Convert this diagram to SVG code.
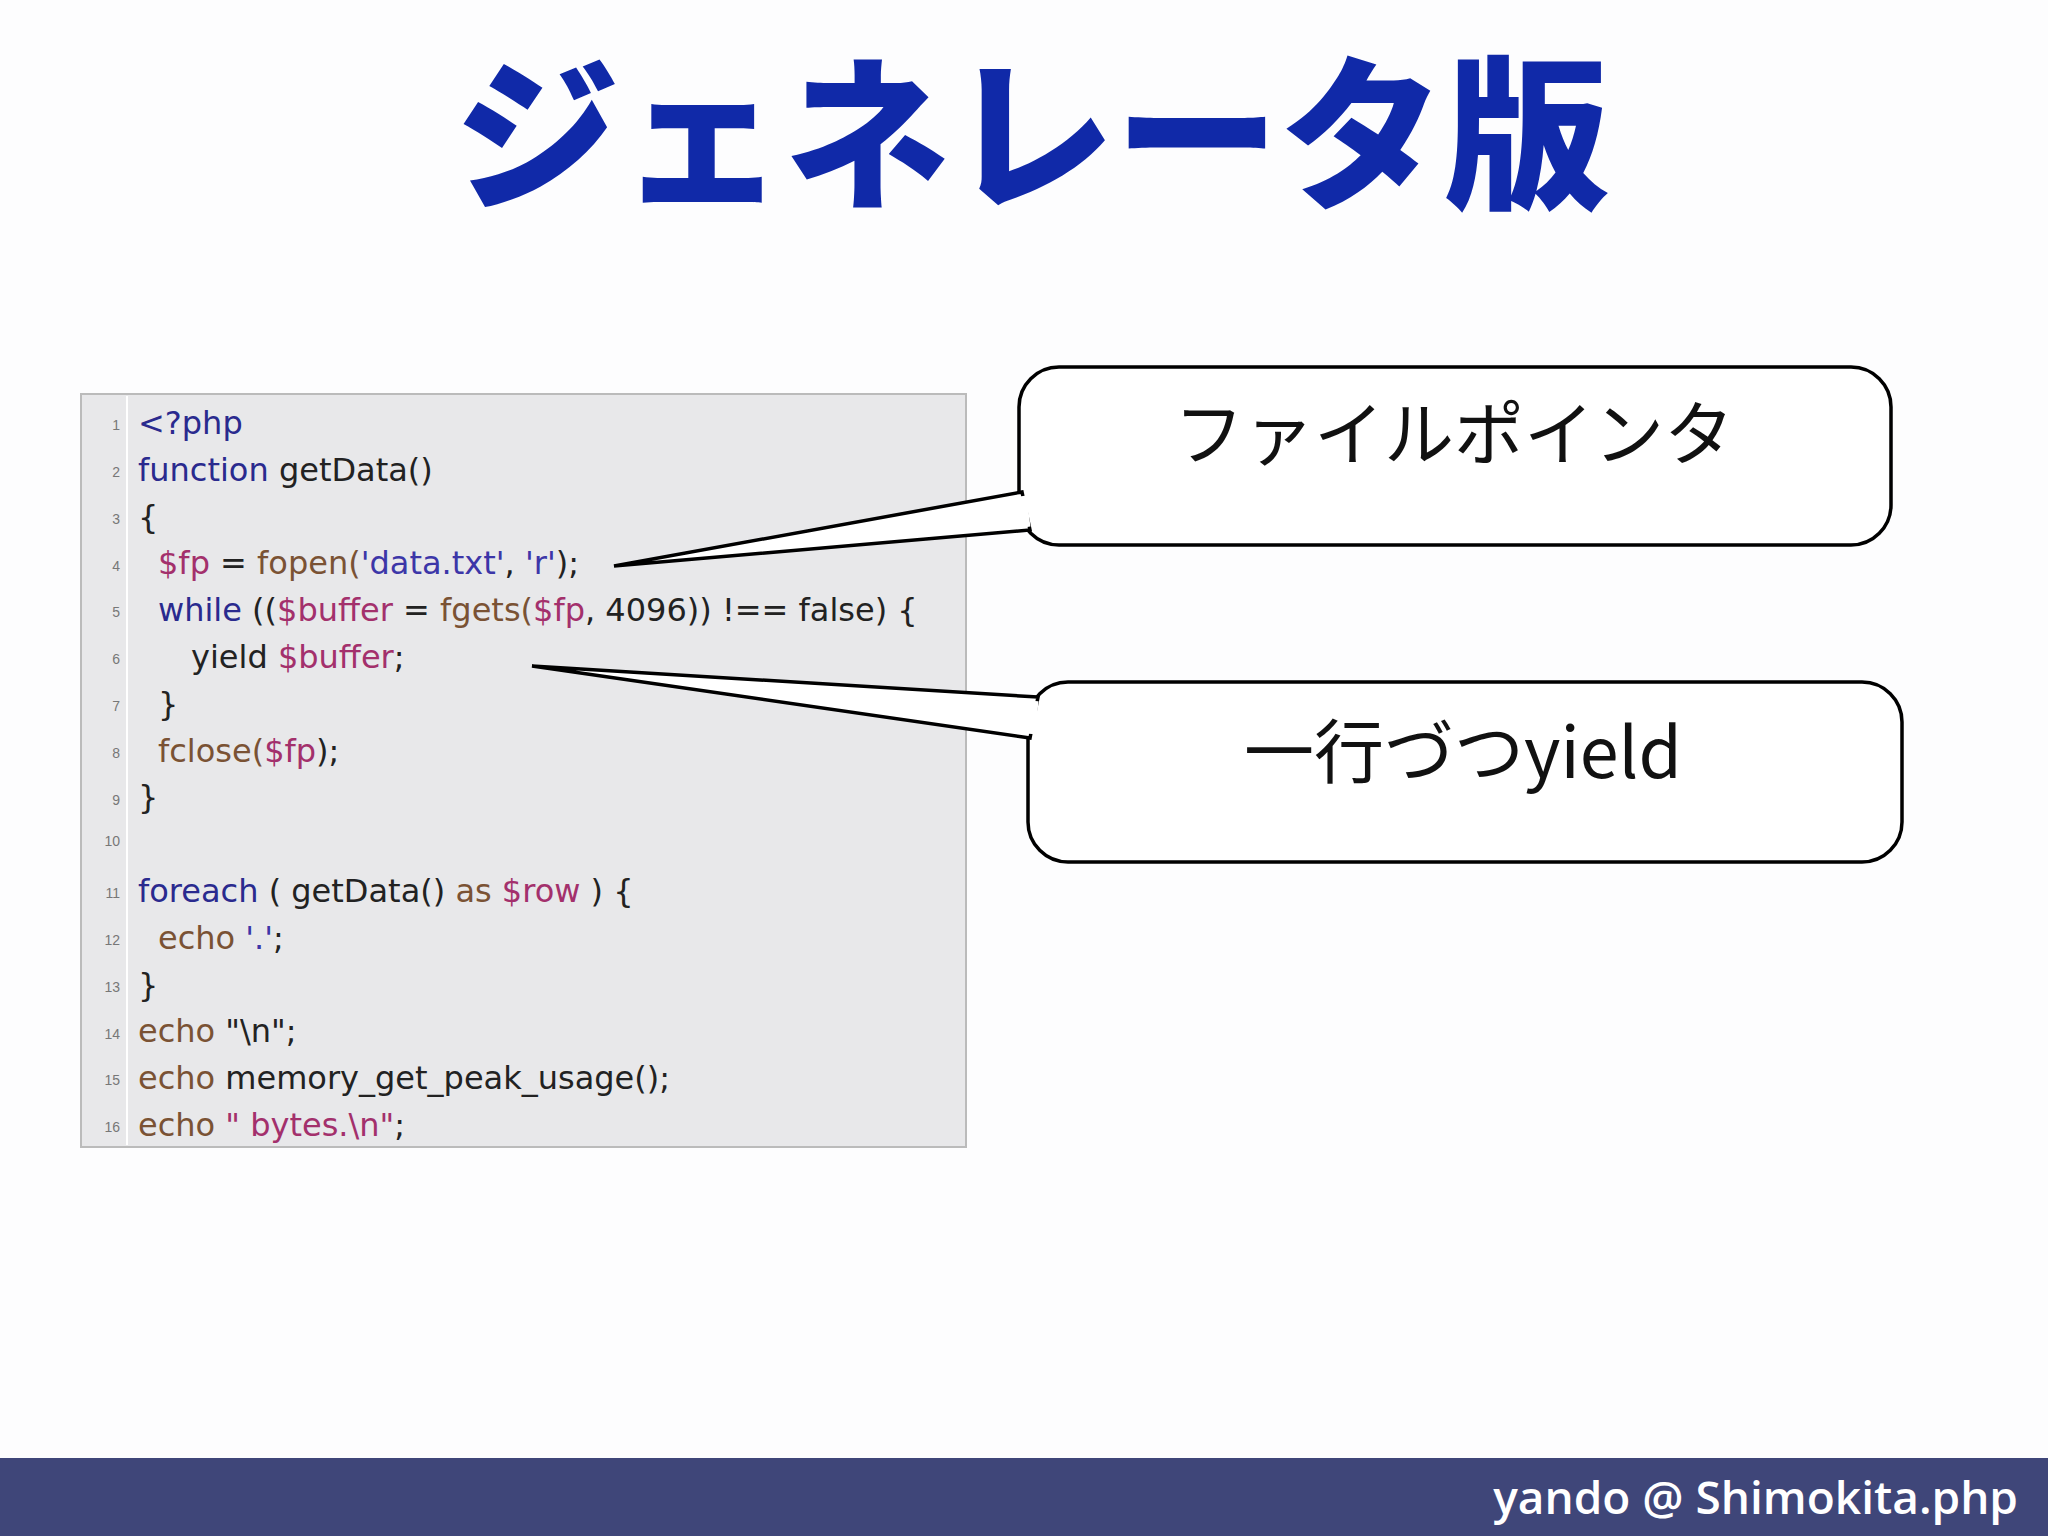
<svg xmlns="http://www.w3.org/2000/svg" width="2048" height="1536" viewBox="0 0 2048 1536">
<style>
.code{font-family:"DejaVu Sans","Liberation Sans",sans-serif;font-size:32px;fill:#222}
.k{fill:#2a2a8e}.f{fill:#7a5234}.s{fill:#3c36a8}.v{fill:#a3306c}
.ln{font-family:"Liberation Sans",sans-serif;font-size:14px;fill:#777;text-anchor:end}
.call{fill:#fff;stroke:#000;stroke-width:3.5}
.lbl{font-family:"Noto Sans CJK JP","Liberation Sans",sans-serif;font-size:70px;fill:#111;text-anchor:middle}
</style>
<rect width="2048" height="1536" fill="#fdfdfe"/>
<text x="1032" y="196" text-anchor="middle" font-family="Noto Sans CJK JP,sans-serif" font-weight="900" font-size="165" fill="#1029a8">ジェネレータ版</text>
<g id="code">
<rect x="81" y="394" width="885" height="753" fill="#e8e8ea" stroke="#bbb" stroke-width="2"/>
<line x1="127" y1="396" x2="127" y2="1145" stroke="#fff" stroke-width="2"/>
<g class="ln">
<text x="120" y="430">1</text><text x="120" y="477">2</text><text x="120" y="524">3</text><text x="120" y="571">4</text><text x="120" y="617">5</text><text x="120" y="664">6</text><text x="120" y="711">7</text><text x="120" y="758">8</text><text x="120" y="805">9</text><text x="120" y="846">10</text><text x="120" y="898">11</text><text x="120" y="945">12</text><text x="120" y="992">13</text><text x="120" y="1039">14</text><text x="120" y="1085">15</text><text x="120" y="1132">16</text>
</g>
<g class="code">
<text x="138" y="434"><tspan class="k">&lt;?php</tspan></text>
<text x="138" y="481"><tspan class="k">function</tspan> getData()</text>
<text x="138" y="528">{</text>
<text x="158" y="574"><tspan class="v">$fp</tspan> = <tspan class="f">fopen(</tspan><tspan class="s">'data.txt'</tspan>, <tspan class="s">'r'</tspan>);</text>
<text x="158" y="621"><tspan class="k">while</tspan> ((<tspan class="v">$buffer</tspan> = <tspan class="f">fgets(</tspan><tspan class="v">$fp</tspan>, 4096)) !== false) {</text>
<text x="191" y="668">yield <tspan class="v">$buffer</tspan>;</text>
<text x="158" y="715">}</text>
<text x="158" y="762"><tspan class="f">fclose(</tspan><tspan class="v">$fp</tspan>);</text>
<text x="138" y="808">}</text>
<text x="138" y="902"><tspan class="k">foreach</tspan> ( getData() <tspan class="f">as</tspan> <tspan class="v">$row</tspan> ) {</text>
<text x="158" y="949"><tspan class="f">echo</tspan> <tspan class="s">'.'</tspan>;</text>
<text x="138" y="996">}</text>
<text x="138" y="1042"><tspan class="f">echo</tspan> "\n";</text>
<text x="138" y="1089"><tspan class="f">echo</tspan> memory_get_peak_usage();</text>
<text x="138" y="1136"><tspan class="f">echo</tspan> <tspan class="v">" bytes.\n"</tspan>;</text>
</g>
</g>
<g id="callout1">
<rect class="call" x="1019" y="367" width="872" height="178" rx="40"/>
<path d="M1022,492 L614,566 L1030,530 Z" fill="#fff" stroke="#000" stroke-width="3.5" stroke-linejoin="miter"/>
<path d="M1023,496 L1027,527" stroke="#fff" stroke-width="7"/>
<text class="lbl" x="1454" y="460">ファイルポインタ</text>
</g>
<g id="callout2">
<rect class="call" x="1028" y="682" width="874" height="180" rx="40"/>
<path d="M1038,697 L532,666 L1030,738 Z" fill="#fff" stroke="#000" stroke-width="3.5"/>
<path d="M1035,701 L1032,734" stroke="#fff" stroke-width="7"/>
<text class="lbl" x="1463" y="778">一行づつyield</text>
</g>
<rect x="0" y="1458" width="2048" height="78" fill="#3f4679"/>
<text x="2018" y="1514" text-anchor="end" font-family="Open Sans,Liberation Sans,sans-serif" font-weight="600" font-size="46" fill="#fff">yando @ Shimokita.php</text>
</svg>
